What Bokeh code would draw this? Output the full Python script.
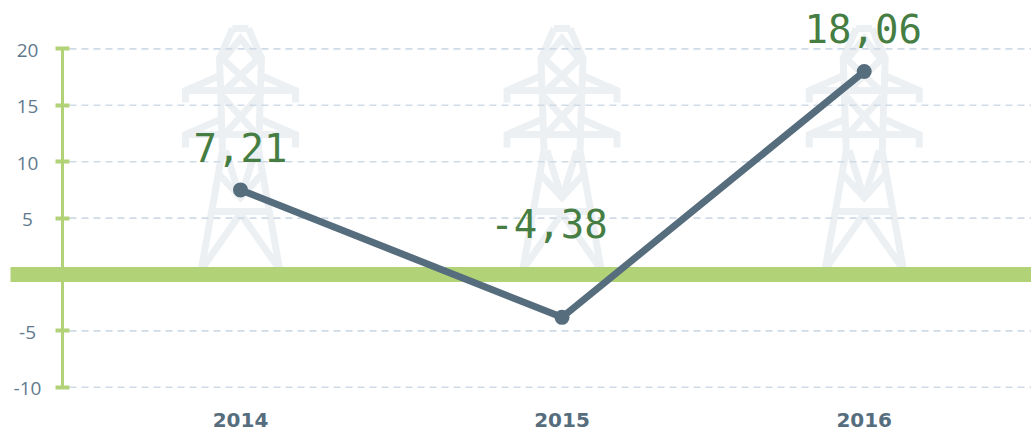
from bokeh.plotting import figure
from bokeh.models import ColumnDataSource, FixedTicker, LinearAxis, Range1d
from bokeh.core.properties import value
from bokeh.embed import file_html
from bokeh.resources import INLINE

# data
years = ["2014", "2015", "2016"]
year_positions = [2014.0, 2015.0, 2015.94]
plotted = [7.5, -3.8, 18.0]
value_labels = ["7,21", "-4,38", "18,06"]
y_ticks = [-10, -5, 0, 5, 10, 15, 20]
grid_ticks = [-10, -5, 5, 10, 15, 20]
grid_labels = ["-10", "-5", "5", "10", "15", "20"]

# layout
W, H = 1031, 430
PX_PER_YEAR = 321.5
PX_PER_UNIT = 11.28
def xv(px): return 2014 + (px - 240) / PX_PER_YEAR
def yv(py): return (274 - py) / PX_PER_UNIT
BOTTOM_PX = 397

GREEN = "#b1d276"
SLATE = "#566d7e"
p = figure(width=W, height=H, frame_height=BOTTOM_PX, output_backend="svg", toolbar_location=None,
           x_range=Range1d(xv(0), xv(1031)), y_range=Range1d(yv(BOTTOM_PX), yv(0)),
           min_border_left=0, min_border_right=0, min_border_top=0, min_border_bottom=33,
           x_axis_location=None, y_axis_location=None, outline_line_color=None)
p.background_fill_color = "white"
p.border_fill_color = "white"
p.grid.visible = False

# pylon silhouette, offsets in px from the pylon's centre
pylon = [
    [(-8, 28), (8, 28)],
    [(-8, 28), (-21, 58), (-18, 150)], [(8, 28), (21, 58), (18, 150)],
    [(-18, 60), (0, 38), (18, 60)],
    [(-18, 58), (18, 92)], [(18, 58), (-18, 92)],
    [(-18, 96), (18, 136)], [(18, 96), (-18, 136)],
    [(-18, 74), (-55, 90), (-55, 102)], [(18, 74), (55, 90), (55, 102)],
    [(-55, 90), (55, 90)],
    [(-18, 118), (-55, 134), (-55, 147)], [(18, 118), (55, 134), (55, 147)],
    [(-55, 134), (55, 134)],
    [(-18, 150), (-39, 268)], [(18, 150), (39, 268)],
    [(-15, 150), (0, 198)], [(15, 150), (0, 198)],
    [(-23, 172), (0, 197), (23, 172)],
    [(-29, 211), (29, 211)],
    [(0, 213), (-37, 266)], [(0, 213), (37, 266)],
]
xs, ys = [], []
for c in year_positions:
    cpx = 240 + (c - 2014) * PX_PER_YEAR
    for seg in pylon:
        xs.append([xv(cpx + a) for a, _ in seg])
        ys.append([yv(b) for _, b in seg])
p.multi_line(xs, ys, line_color="#ecf0f3", line_width=7, line_join="miter", level="image")

# dashed grid
p.segment(x0=[xv(69)] * len(grid_ticks), x1=[xv(1031)] * len(grid_ticks), y0=grid_ticks, y1=grid_ticks,
          line_color="#cfdbe6", line_width=1.6, line_dash="7 5", level="underlay")

# left axis sitting inside the frame; its labels are centred in a column of their own
yaxis = LinearAxis(fixed_location=xv(62), bounds=(-10, 20), ticker=FixedTicker(ticks=y_ticks),
                   major_label_overrides={t: "" for t in y_ticks},
                   axis_line_color=GREEN, axis_line_width=3,
                   major_tick_line_color=GREEN, major_tick_line_width=4,
                   major_tick_out=7, major_tick_in=7, minor_tick_line_color=None)
p.add_layout(yaxis, "left")
p.text(x=[xv(27)] * len(grid_ticks), y=grid_ticks, text=grid_labels, text_align="center",
       text_baseline="middle", y_offset=1.5, text_font=value("Open Sans"), text_font_size="19px",
       text_color="#5f7a8e")

# bottom axis
xaxis = LinearAxis(ticker=FixedTicker(ticks=year_positions),
                   major_label_overrides=dict(zip(year_positions, years)),
                   axis_line_color=None, major_tick_line_color=None, minor_tick_line_color=None,
                   major_label_standoff=9,
                   major_label_text_font="DejaVu Sans", major_label_text_font_style="bold",
                   major_label_text_font_size="20px", major_label_text_color=SLATE)
p.add_layout(xaxis, "below")

# zero band
p.segment(x0=[xv(10)], x1=[xv(1031)], y0=[0], y1=[0], line_color=GREEN, line_width=15, line_cap="butt")

# series
src = ColumnDataSource(dict(x=year_positions, y=plotted, label=value_labels,
                            dx=[0, -13, -1], dy=[-42, -94, -43]))
p.line("x", "y", source=src, line_color=SLATE, line_width=7)
p.scatter("x", "y", source=src, size=15, fill_color=SLATE, line_color=None)
p.text("x", "y", text="label", source=src, x_offset="dx", y_offset="dy",
       text_align="center", text_baseline="alphabetic",
       text_font=value("DejaVu Sans Mono"), text_font_size="39px", text_color="#457d42")

open("out.html", "w").write(file_html(p, INLINE))
